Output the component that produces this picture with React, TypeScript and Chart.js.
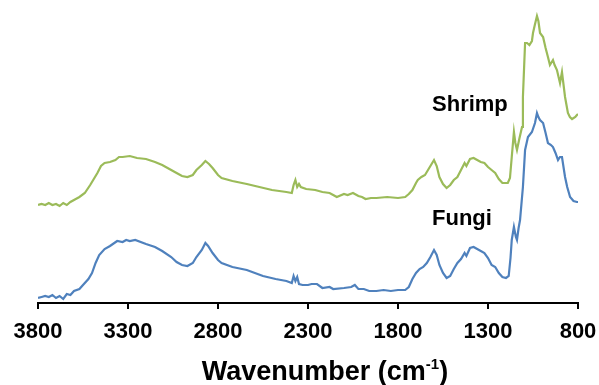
import React, { useEffect, useRef } from "react";
import { Chart, registerables } from "chart.js";

Chart.register(...registerables);

// Wavenumber ticks (cm-1)
const xMin = 800;
const xMax = 3800;
const xStep = 500;

// Fungi spectrum (arbitrary absorbance units)
const fungiWavenumbers = [
  3800, 3780, 3760, 3740, 3720, 3700, 3680, 3660, 3640, 3620, 3600, 3570, 3550, 3520, 3500, 3480, 3460, 3430, 3400, 3360,
  3330, 3310, 3290, 3260, 3200, 3150, 3110, 3060, 3030, 3000, 2970, 2940, 2920, 2890, 2870, 2855, 2830, 2800, 2780, 2720,
  2640, 2580, 2550, 2480, 2420, 2390, 2380, 2370, 2360, 2350, 2330, 2300, 2280, 2250, 2220, 2180, 2160, 2100, 2060, 2040,
  2020, 1990, 1960, 1920, 1880, 1840, 1800, 1760, 1740, 1720, 1700, 1680, 1660, 1640, 1620, 1600, 1585, 1570, 1550, 1530,
  1510, 1490, 1470, 1450, 1430, 1420, 1400, 1380, 1360, 1340, 1320, 1300, 1280, 1260, 1240, 1220, 1200, 1185, 1175, 1168,
  1156, 1145, 1139, 1130, 1122, 1106, 1094, 1078, 1056, 1039, 1028, 1020, 1011, 994, 980, 967, 950, 939, 925, 911,
  900, 889, 872, 860, 844, 825, 806, 800,
];
const fungiValues = [
  5, 6, 7, 6, 8, 5, 7, 4, 9, 8, 12, 14, 18, 24, 30, 40, 48, 54, 57, 62,
  61, 63, 62, 63, 59, 56, 52, 46, 41, 38, 37, 40, 46, 53, 60, 57, 50, 43, 40, 36,
  33, 29, 27, 24, 22, 20, 27, 22, 26, 19, 18, 18, 19, 19, 15, 16, 14, 15, 16, 18,
  14, 14, 12, 12, 13, 12, 13, 13, 16, 24, 30, 34, 36, 40, 46, 53, 48, 38, 30, 25,
  27, 34, 40, 44, 50, 47, 55, 56, 54, 52, 50, 45, 38, 36, 30, 26, 25, 27, 45, 63,
  76, 66, 63, 75, 83, 116, 153, 166, 171, 180, 190, 186, 183, 180, 170, 160, 158, 156, 150, 143,
  146, 146, 126, 116, 106, 102, 101, 101,
];

// Shrimp spectrum (arbitrary absorbance units, offset)
const shrimpWavenumbers = [
  3800, 3780, 3760, 3740, 3720, 3700, 3680, 3660, 3640, 3620, 3590, 3570, 3540, 3510, 3490, 3470, 3450, 3430, 3400, 3370,
  3350, 3330, 3290, 3250, 3200, 3150, 3110, 3060, 3030, 3000, 2970, 2940, 2920, 2890, 2870, 2850, 2830, 2800, 2780, 2720,
  2640, 2570, 2500, 2420, 2390, 2380, 2370, 2360, 2350, 2340, 2310, 2260, 2220, 2180, 2160, 2140, 2100, 2080, 2050, 2020,
  2000, 1980, 1950, 1920, 1860, 1800, 1760, 1740, 1720, 1700, 1690, 1670, 1650, 1630, 1600, 1585, 1570, 1550, 1530, 1510,
  1490, 1470, 1450, 1430, 1420, 1400, 1380, 1360, 1340, 1320, 1300, 1280, 1260, 1240, 1220, 1206, 1190, 1178, 1168, 1156,
  1148, 1139, 1125, 1111, 1106, 1094, 1083, 1070, 1056, 1050, 1040, 1028, 1020, 1011, 994, 980, 967, 956, 939, 930,
  917, 900, 889, 872, 856, 845, 833, 815, 806, 800,
];
const shrimpValues = [
  98, 99, 98, 100, 98, 99, 97, 100, 98, 101, 104, 106, 110, 118, 124, 130, 137, 140, 141, 143,
  146, 146, 147, 145, 144, 141, 138, 133, 130, 127, 126, 128, 133, 138, 142, 139, 135, 128, 125, 122,
  119, 116, 113, 111, 110, 118, 123, 116, 119, 116, 114, 113, 111, 110, 108, 106, 109, 108, 110, 107,
  106, 104, 105, 105, 106, 105, 106, 109, 113, 120, 123, 126, 128, 134, 143, 137, 126, 119, 115, 118,
  123, 126, 133, 140, 137, 144, 145, 143, 141, 140, 136, 133, 130, 124, 120, 120, 120, 125, 146, 171,
  160, 153, 165, 176, 206, 260, 260, 258, 262, 270, 278, 287, 282, 270, 266, 255, 246, 238, 243, 238,
  233, 220, 231, 206, 190, 186, 184, 186, 188, 189,
];

// Series labels and their anchor positions (data units)
const seriesNames = ["Fungi", "Shrimp"];
const labelWavenumbers = [1611, 1611];
const labelValues = [78, 192];
const seriesColors = ["#4F81BD", "#9BBB59"];

const axisTitle = "Wavenumber (cm";
const axisTitleSup = "-1";
const axisTitleEnd = ")";

const FONT = "'Liberation Sans', Arial, sans-serif";

export default function App() {
  const canvasRef = useRef<HTMLCanvasElement | null>(null);

  useEffect(() => {
    const canvas = canvasRef.current;
    if (!canvas) return;

    const labelsPlugin = {
      id: "seriesLabels",
      afterDraw(chart: any) {
        const ctx = chart.ctx;
        const xs = chart.scales.x;
        const ys = chart.scales.y;
        ctx.save();
        ctx.fillStyle = "#000";
        ctx.font = `bold 22px ${FONT}`;
        ctx.textAlign = "left";
        ctx.textBaseline = "alphabetic";
        seriesNames.forEach((name, i) => {
          ctx.fillText(name, xs.getPixelForValue(labelWavenumbers[i]), ys.getPixelForValue(labelValues[i]));
        });

        // axis title with superscript
        const mainFont = `bold 27px ${FONT}`;
        const supFont = `bold 15px ${FONT}`;
        ctx.font = mainFont;
        const w1 = ctx.measureText(axisTitle).width;
        const w3 = ctx.measureText(axisTitleEnd).width;
        ctx.font = supFont;
        const w2 = ctx.measureText(axisTitleSup).width;
        const total = w1 + w2 + w3;
        const cx = (chart.chartArea.left + chart.chartArea.right) / 2 + 17;
        const baseY = chart.height - 5;
        let x = cx - total / 2;
        ctx.textAlign = "left";
        ctx.font = mainFont;
        ctx.fillText(axisTitle, x, baseY);
        x += w1;
        ctx.font = supFont;
        ctx.fillText(axisTitleSup, x, baseY - 11);
        x += w2;
        ctx.font = mainFont;
        ctx.fillText(axisTitleEnd, x, baseY);
        ctx.restore();
      },
    };

    const chart = new Chart(canvas, {
      type: "line",
      data: {
        datasets: [
          {
            label: seriesNames[0],
            data: fungiWavenumbers.map((x, i) => ({ x, y: fungiValues[i] })),
            borderColor: seriesColors[0],
            borderWidth: 2.2,
            pointRadius: 0,
            fill: false,
            tension: 0,
          },
          {
            label: seriesNames[1],
            data: shrimpWavenumbers.map((x, i) => ({ x, y: shrimpValues[i] })),
            borderColor: seriesColors[1],
            borderWidth: 2.2,
            pointRadius: 0,
            fill: false,
            tension: 0,
          },
        ],
      },
      options: {
        animation: false,
        responsive: false,
        maintainAspectRatio: false,
        layout: { padding: { left: 38, right: 21, top: 8, bottom: 0 } },
        plugins: {
          legend: { display: false },
          tooltip: { enabled: false },
          title: { display: false },
        },
        scales: {
          x: {
            type: "linear",
            min: xMin,
            max: xMax,
            reverse: true,
            afterFit: (s: any) => {
              s.paddingLeft = 0;
              s.paddingRight = 0;
              s.height = 82;
            },
            ticks: {
              stepSize: xStep,
              color: "#000",
              font: { family: FONT, weight: "bold", size: 22 },
              padding: 10,
              maxRotation: 0,
              autoSkip: false,
              callback: (v: any) => String(v),
            },
            grid: {
              drawOnChartArea: false,
              drawTicks: true,
              tickLength: 6,
              color: "#000",
              lineWidth: 2,
            },
            border: { display: true, color: "#000", width: 2 },
          },
          y: {
            display: false,
            min: 0,
            max: 295,
          },
        },
      },
      plugins: [labelsPlugin],
    });

    return () => chart.destroy();
  }, []);

  return (
    <div style={{ position: "fixed", left: 0, top: 0, width: 599, height: 385, background: "#fff" }}>
      <canvas ref={canvasRef} width={599} height={385} style={{ width: 599, height: 385 }} />
    </div>
  );
}
